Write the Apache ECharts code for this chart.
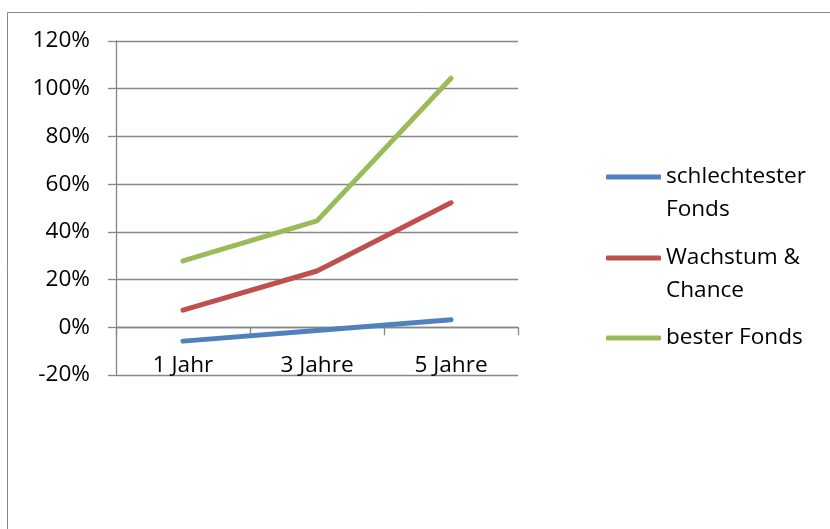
<!DOCTYPE html>
<html><head><meta charset="utf-8">
<script src="https://cdn.jsdelivr.net/npm/echarts@6/dist/echarts.min.js"></script>
<style>html,body{margin:0;padding:0;background:#fff}#c{width:830px;height:529px}</style>
</head><body><div id="c"></div>
<script>
const categories = ['1 Jahr', '3 Jahre', '5 Jahre'];
const seriesNames = ['schlechtester Fonds', 'Wachstum & Chance', 'bester Fonds'];
const legendLabels = [' \nschlechtester\nFonds', ' \nWachstum &\nChance', 'bester Fonds'];
const worst = [-5.8, -1.3, 3.2];
const growth = [7.2, 23.6, 52.2];
const best = [27.8, 44.6, 104.4];
const yTicks = [-20, 0, 20, 40, 60, 80, 100, 120];
const colors = ['#4F81BD', '#C0504D', '#9BBB59'];
const values = [worst, growth, best];

const font = 'Open Sans';
const fs = 22.6;
const chart = echarts.init(document.getElementById('c'));
const legendTops = [127.5, 208.5, 321.5];
chart.setOption({
  animation: false,
  graphic: [{
    type: 'rect', shape: {x: 7.5, y: 12.5, width: 900, height: 700},
    style: {fill: 'none', stroke: '#868686', lineWidth: 1}, silent: true
  }],
  grid: {left: 116, right: 312, top: 41, bottom: 154},
  legend: seriesNames.map((n, i) => ({
    data: [n], orient: 'vertical', left: 606, top: legendTops[i], padding: 0,
    itemWidth: 55, itemHeight: 5, icon: 'roundRect',
    formatter: () => legendLabels[i],
    textStyle: {fontFamily: font, fontSize: fs, color: '#000', lineHeight: 33}
  })),
  xAxis: {
    type: 'category', data: categories, boundaryGap: true,
    axisLine: {onZero: true, lineStyle: {color: '#868686', width: 1.3}},
    axisTick: {show: true, length: 8, lineStyle: {color: '#868686', width: 1.3}},
    axisLabel: {fontFamily: font, fontSize: fs, color: '#000', margin: -21}
  },
  yAxis: {
    type: 'value', min: -20, max: 120, interval: 20,
    axisLine: {show: true, lineStyle: {color: '#868686', width: 1.3}},
    axisTick: {show: true, length: 8, lineStyle: {color: '#868686', width: 1.3}},
    splitLine: {lineStyle: {color: '#868686', width: 1.3}},
    axisLabel: {fontFamily: font, fontSize: fs, color: '#000', margin: 26,
      formatter: v => yTicks.includes(v) ? v + '%' : ''}
  },
  series: seriesNames.map((n, i) => ({
    name: n, type: 'line', data: values[i], showSymbol: false, symbol: 'none',
    itemStyle: {color: colors[i]},
    lineStyle: {color: colors[i], width: 5, cap: 'round', join: 'round'}
  }))
});
</script></body></html>
